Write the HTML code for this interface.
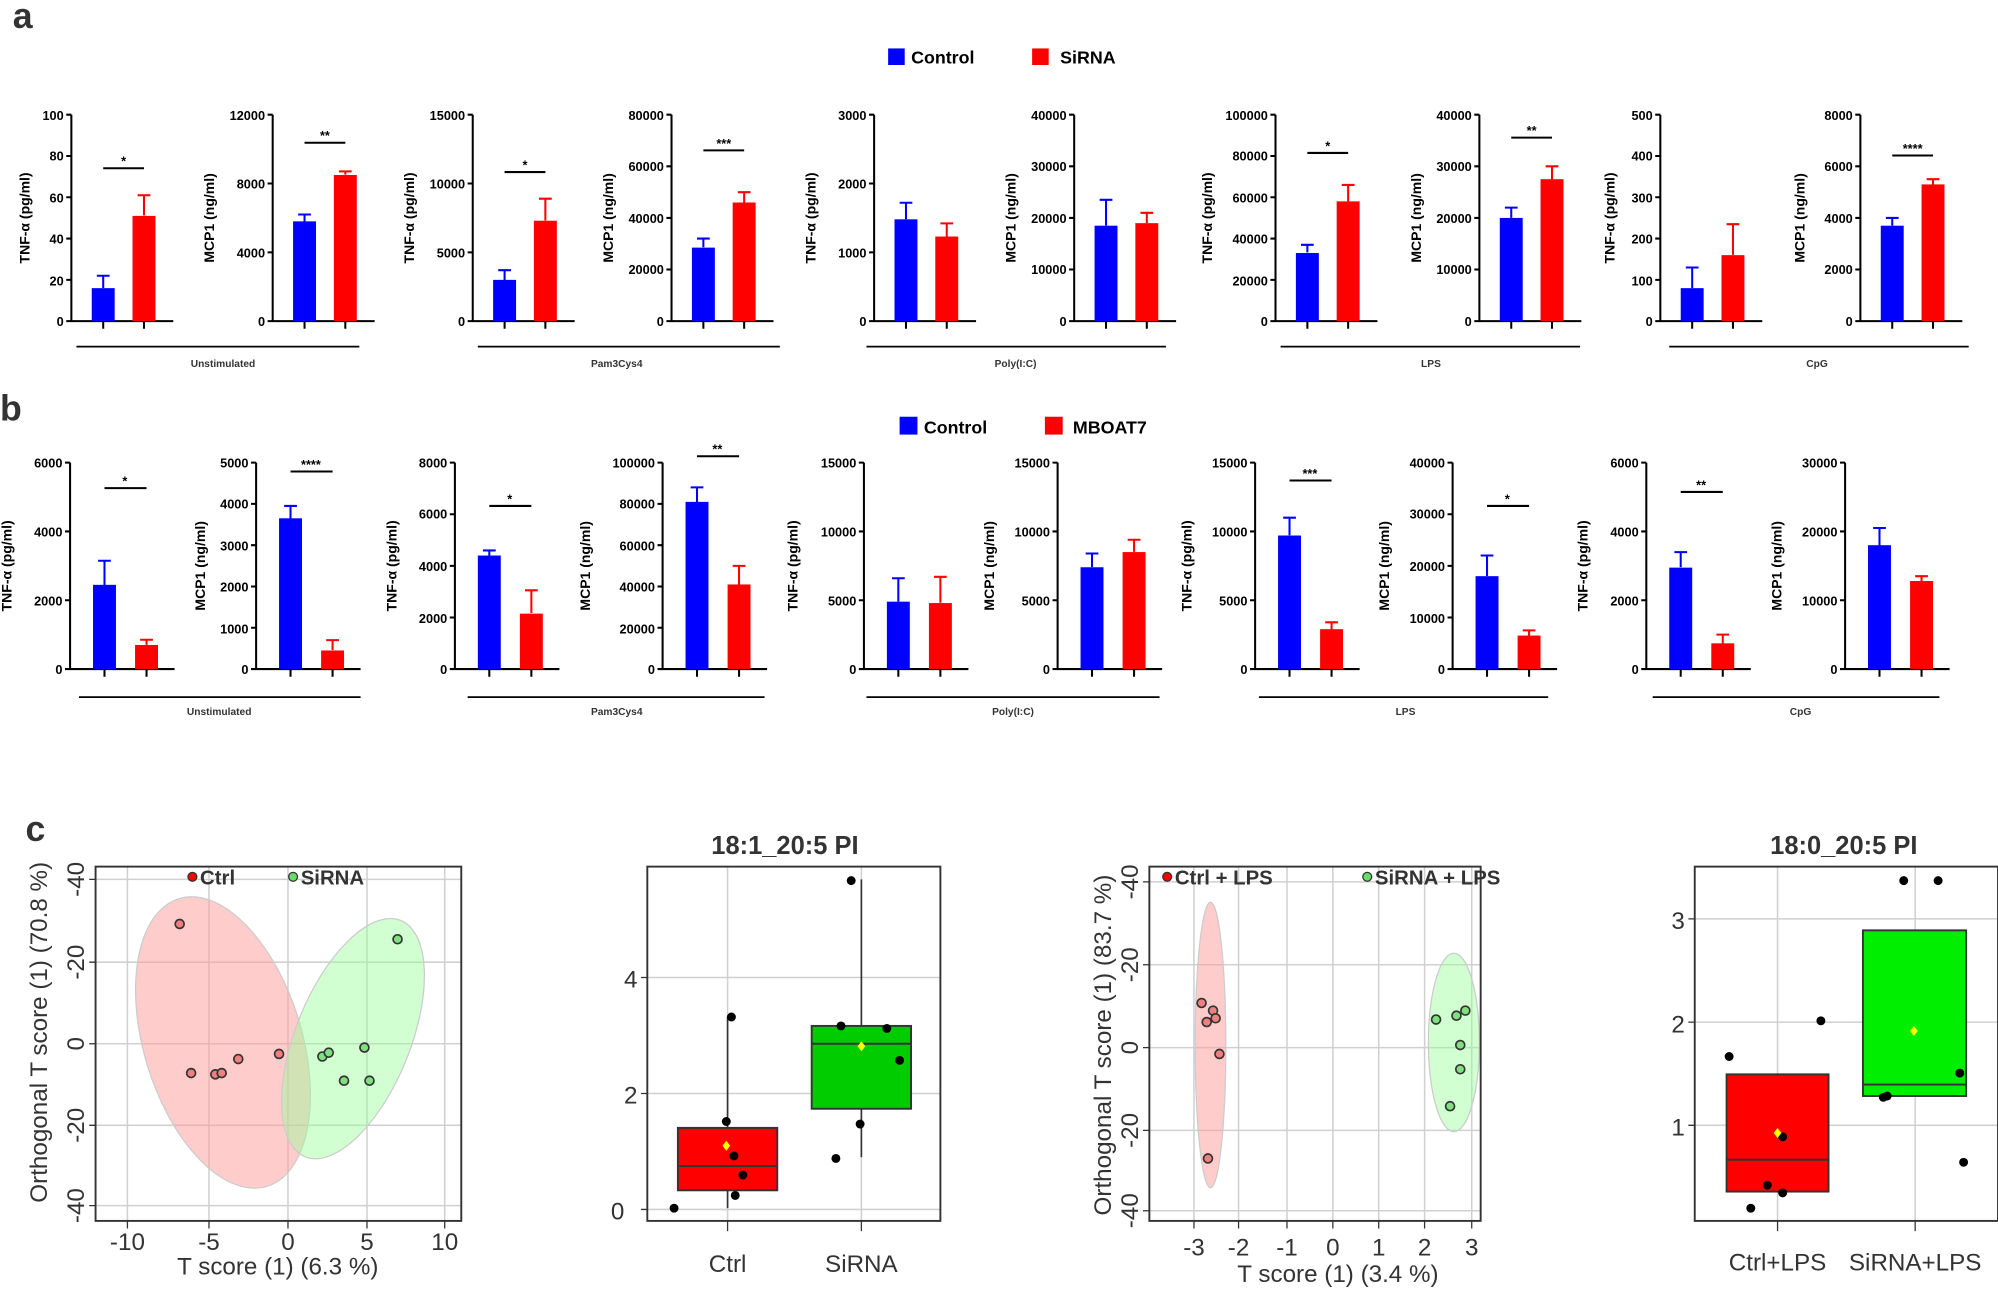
<!DOCTYPE html>
<html><head><meta charset="utf-8"><style>
html,body{margin:0;padding:0;background:#fff}
svg{display:block}
text{font-family:"Liberation Sans",sans-serif}
.t{font-size:10px;font-weight:bold;text-anchor:end}
.yl{font-size:11px;font-weight:bold;text-anchor:middle}
.g{font-size:8px;font-weight:bold;text-anchor:middle;fill:#333}
.s{font-size:10px;font-weight:bold;text-anchor:middle}
.ax{stroke:#000;stroke-width:1.6;fill:none}
.b{fill:#0000ff}.r{fill:#ff0000}
.eb{stroke:#0000ff;stroke-width:1.6}.er{stroke:#ff0000;stroke-width:1.6}
.grid{stroke:#d0d0d0;stroke-width:1.2}
.ct{font-size:19px;fill:#333;text-anchor:middle}
</style></head><body>
<svg width="1998" height="1291" viewBox="0 0 1568 1013" preserveAspectRatio="none" xmlns="http://www.w3.org/2000/svg">
<text x="10" y="22" font-size="28" font-weight="bold" fill="#333">a</text>
<text x="0" y="330" font-size="28" font-weight="bold" fill="#333">b</text>
<text x="20" y="660" font-size="28" font-weight="bold" fill="#333">c</text>

<!-- legend a -->
<rect x="697" y="38" width="13" height="13" class="b"/><text x="715" y="50" font-size="14" font-weight="bold">Control</text>
<rect x="810" y="38" width="13" height="13" class="r"/><text x="832" y="50" font-size="14" font-weight="bold">SiRNA</text>
<!-- legend b -->
<rect x="706" y="327" width="14" height="14" class="b"/><text x="725" y="340" font-size="14" font-weight="bold">Control</text>
<rect x="820" y="327" width="14" height="14" class="r"/><text x="842" y="340" font-size="14" font-weight="bold">MBOAT7</text>

<!-- ===== Panel a ===== -->
<g id="a1" transform="translate(56,0)">
<path class="ax" d="M0,90V252H80M-4,90H0M-4,122.4H0M-4,154.8H0M-4,187.2H0M-4,219.6H0M-4,252H0M25,252v6M57,252v6"/>
<text class="t" x="-6" y="94">100</text><text class="t" x="-6" y="126">80</text><text class="t" x="-6" y="159">60</text><text class="t" x="-6" y="191">40</text><text class="t" x="-6" y="224">20</text><text class="t" x="-6" y="256">0</text>
<text class="yl" transform="translate(-33,171) rotate(-90)">TNF-α (pg/ml)</text>
<rect x="16" y="226.1" width="18" height="25.9" class="b"/><path class="eb" d="M25,226V216.4M20,216.4H30"/>
<rect x="48" y="169.4" width="18" height="82.6" class="r"/><path class="er" d="M57,169V153.2M52,153.2H62"/>
<path class="ax" d="M25,132H57" stroke-width="1"/><text class="s" x="41" y="130">*</text>
</g>
<g transform="translate(214,0)">
<path class="ax" d="M0,90V252H80M-4,90H0M-4,144H0M-4,198H0M-4,252H0M25,252v6M57,252v6"/>
<text class="t" x="-6" y="94">12000</text><text class="t" x="-6" y="148">8000</text><text class="t" x="-6" y="202">4000</text><text class="t" x="-6" y="256">0</text>
<text class="yl" transform="translate(-46,171) rotate(-90)">MCP1 (ng/ml)</text>
<rect x="16" y="173.7" width="18" height="78.3" class="b"/><path class="eb" d="M25,174V168.3M20,168.3H30"/>
<rect x="48" y="137.3" width="18" height="114.7" class="r"/><path class="er" d="M57,137V134.5M52,134.5H62"/>
<path class="ax" d="M25,112H57" stroke-width="1"/><text class="s" x="41" y="110">**</text>
</g>
<g transform="translate(371,0)">
<path class="ax" d="M0,90V252H80M-4,90H0M-4,144H0M-4,198H0M-4,252H0M25,252v6M57,252v6"/>
<text class="t" x="-6" y="94">15000</text><text class="t" x="-6" y="148">10000</text><text class="t" x="-6" y="202">5000</text><text class="t" x="-6" y="256">0</text>
<text class="yl" transform="translate(-46,171) rotate(-90)">TNF-α (pg/ml)</text>
<rect x="16" y="219.6" width="18" height="32.4" class="b"/><path class="eb" d="M25,220V212M20,212H30"/>
<rect x="48" y="173.2" width="18" height="78.8" class="r"/><path class="er" d="M57,173V155.9M52,155.9H62"/>
<path class="ax" d="M25,135H57" stroke-width="1"/><text class="s" x="41" y="133">*</text>
</g>
<g transform="translate(527,0)">
<path class="ax" d="M0,90V252H80M-4,90H0M-4,130.5H0M-4,171H0M-4,211.5H0M-4,252H0M25,252v6M57,252v6"/>
<text class="t" x="-6" y="94">80000</text><text class="t" x="-6" y="134">60000</text><text class="t" x="-6" y="175">40000</text><text class="t" x="-6" y="215">20000</text><text class="t" x="-6" y="256">0</text>
<text class="yl" transform="translate(-46,171) rotate(-90)">MCP1 (ng/ml)</text>
<rect x="16" y="194.3" width="18" height="57.7" class="b"/><path class="eb" d="M25,194V187.2M20,187.2H30"/>
<rect x="48" y="158.9" width="18" height="93.1" class="r"/><path class="er" d="M57,159V150.8M52,150.8H62"/>
<path class="ax" d="M25,118H57" stroke-width="1"/><text class="s" x="41" y="116">***</text>
</g>
<g transform="translate(686,0)">
<path class="ax" d="M0,90V252H80M-4,90H0M-4,144H0M-4,198H0M-4,252H0M25,252v6M57,252v6"/>
<text class="t" x="-6" y="94">3000</text><text class="t" x="-6" y="148">2000</text><text class="t" x="-6" y="202">1000</text><text class="t" x="-6" y="256">0</text>
<text class="yl" transform="translate(-46,171) rotate(-90)">TNF-α (pg/ml)</text>
<rect x="16" y="172.1" width="18" height="79.9" class="b"/><path class="eb" d="M25,172V159.1M20,159.1H30"/>
<rect x="48" y="185.6" width="18" height="66.4" class="r"/><path class="er" d="M57,186V175.3M52,175.3H62"/>
</g>
<g transform="translate(843,0)">
<path class="ax" d="M0,90V252H80M-4,90H0M-4,130.5H0M-4,171H0M-4,211.5H0M-4,252H0M25,252v6M57,252v6"/>
<text class="t" x="-6" y="94">40000</text><text class="t" x="-6" y="134">30000</text><text class="t" x="-6" y="175">20000</text><text class="t" x="-6" y="215">10000</text><text class="t" x="-6" y="256">0</text>
<text class="yl" transform="translate(-46,171) rotate(-90)">MCP1 (ng/ml)</text>
<rect x="16" y="177.1" width="18" height="74.9" class="b"/><path class="eb" d="M25,177V156.8M20,156.8H30"/>
<rect x="48" y="175.1" width="18" height="76.9" class="r"/><path class="er" d="M57,175V167M52,167H62"/>
</g>
<g transform="translate(1001,0)">
<path class="ax" d="M0,90V252H80M-4,90H0M-4,122.4H0M-4,154.8H0M-4,187.2H0M-4,219.6H0M-4,252H0M25,252v6M57,252v6"/>
<text class="t" x="-6" y="94">100000</text><text class="t" x="-6" y="126">80000</text><text class="t" x="-6" y="159">60000</text><text class="t" x="-6" y="191">40000</text><text class="t" x="-6" y="224">20000</text><text class="t" x="-6" y="256">0</text>
<text class="yl" transform="translate(-50,171) rotate(-90)">TNF-α (pg/ml)</text>
<rect x="16" y="198.5" width="18" height="53.5" class="b"/><path class="eb" d="M25,198V192.1M20,192.1H30"/>
<rect x="48" y="158" width="18" height="94" class="r"/><path class="er" d="M57,158V145.1M52,145.1H62"/>
<path class="ax" d="M25,120H57" stroke-width="1"/><text class="s" x="41" y="118">*</text>
</g>
<g transform="translate(1161,0)">
<path class="ax" d="M0,90V252H80M-4,90H0M-4,130.5H0M-4,171H0M-4,211.5H0M-4,252H0M25,252v6M57,252v6"/>
<text class="t" x="-6" y="94">40000</text><text class="t" x="-6" y="134">30000</text><text class="t" x="-6" y="175">20000</text><text class="t" x="-6" y="215">10000</text><text class="t" x="-6" y="256">0</text>
<text class="yl" transform="translate(-46,171) rotate(-90)">MCP1 (ng/ml)</text>
<rect x="16" y="171" width="18" height="81" class="b"/><path class="eb" d="M25,171V162.9M20,162.9H30"/>
<rect x="48" y="140.6" width="18" height="111.4" class="r"/><path class="er" d="M57,141V130.5M52,130.5H62"/>
<path class="ax" d="M25,108H57" stroke-width="1"/><text class="s" x="41" y="106">**</text>
</g>
<g transform="translate(1303,0)">
<path class="ax" d="M0,90V252H80M-4,90H0M-4,122.4H0M-4,154.8H0M-4,187.2H0M-4,219.6H0M-4,252H0M25,252v6M57,252v6"/>
<text class="t" x="-6" y="94">500</text><text class="t" x="-6" y="126">400</text><text class="t" x="-6" y="159">300</text><text class="t" x="-6" y="191">200</text><text class="t" x="-6" y="224">100</text><text class="t" x="-6" y="256">0</text>
<text class="yl" transform="translate(-36,171) rotate(-90)">TNF-α (pg/ml)</text>
<rect x="16" y="226.1" width="18" height="25.9" class="b"/><path class="eb" d="M25,226V209.9M20,209.9H30"/>
<rect x="48" y="200.2" width="18" height="51.8" class="r"/><path class="er" d="M57,200V175.9M52,175.9H62"/>
</g>
<g transform="translate(1460,0)">
<path class="ax" d="M0,90V252H80M-4,90H0M-4,130.5H0M-4,171H0M-4,211.5H0M-4,252H0M25,252v6M57,252v6"/>
<text class="t" x="-6" y="94">8000</text><text class="t" x="-6" y="134">6000</text><text class="t" x="-6" y="175">4000</text><text class="t" x="-6" y="215">2000</text><text class="t" x="-6" y="256">0</text>
<text class="yl" transform="translate(-44,171) rotate(-90)">MCP1 (ng/ml)</text>
<rect x="16" y="177.1" width="18" height="74.9" class="b"/><path class="eb" d="M25,177V171M20,171H30"/>
<rect x="48" y="144.7" width="18" height="107.3" class="r"/><path class="er" d="M57,145V140.6M52,140.6H62"/>
<path class="ax" d="M25,122H57" stroke-width="1"/><text class="s" x="41" y="120">****</text>
</g>
<path d="M60,272H282M375,272H612M680,272H915M1005,272H1240M1310,272H1545" stroke="#000" stroke-width="1.4"/>
<text class="g" x="175" y="288">Unstimulated</text><text class="g" x="484" y="288">Pam3Cys4</text><text class="g" x="797" y="288">Poly(I:C)</text><text class="g" x="1123" y="288">LPS</text><text class="g" x="1426" y="288">CpG</text>

<!-- ===== Panel b ===== -->
<g transform="translate(55,0)">
<path class="ax" d="M0,363V525H82M-4,363H0M-4,417H0M-4,471H0M-4,525H0M27,525v6M60,525v6"/>
<text class="t" x="-6" y="367">6000</text><text class="t" x="-6" y="421">4000</text><text class="t" x="-6" y="475">2000</text><text class="t" x="-6" y="529">0</text>
<text class="yl" transform="translate(-46,444) rotate(-90)">TNF-α (pg/ml)</text>
<rect x="18" y="458.9" width="18" height="66.1" class="b"/><path class="eb" d="M27,459V440M22,440H32"/>
<rect x="51" y="506.1" width="18" height="18.9" class="r"/><path class="er" d="M60,506V502M55,502H65"/>
<path class="ax" d="M27,383H60" stroke-width="1"/><text class="s" x="43" y="381">*</text>
</g>
<g transform="translate(201,0)">
<path class="ax" d="M0,363V525H82M-4,363H0M-4,395.4H0M-4,427.8H0M-4,460.2H0M-4,492.6H0M-4,525H0M27,525v6M60,525v6"/>
<text class="t" x="-6" y="367">5000</text><text class="t" x="-6" y="399">4000</text><text class="t" x="-6" y="432">3000</text><text class="t" x="-6" y="464">2000</text><text class="t" x="-6" y="497">1000</text><text class="t" x="-6" y="529">0</text>
<text class="yl" transform="translate(-40,444) rotate(-90)">MCP1 (ng/ml)</text>
<rect x="18" y="406.7" width="18" height="118.3" class="b"/><path class="eb" d="M27,407V397M22,397H32"/>
<rect x="51" y="510.4" width="18" height="14.6" class="r"/><path class="er" d="M60,510V502.3M55,502.3H65"/>
<path class="ax" d="M27,370H60" stroke-width="1"/><text class="s" x="43" y="368">****</text>
</g>
<g transform="translate(357,0)">
<path class="ax" d="M0,363V525H82M-4,363H0M-4,403.5H0M-4,444H0M-4,484.5H0M-4,525H0M27,525v6M60,525v6"/>
<text class="t" x="-6" y="367">8000</text><text class="t" x="-6" y="407">6000</text><text class="t" x="-6" y="448">4000</text><text class="t" x="-6" y="489">2000</text><text class="t" x="-6" y="529">0</text>
<text class="yl" transform="translate(-46,444) rotate(-90)">TNF-α (pg/ml)</text>
<rect x="18" y="435.9" width="18" height="89.1" class="b"/><path class="eb" d="M27,436V431.9M22,431.9H32"/>
<rect x="51" y="481.5" width="18" height="43.5" class="r"/><path class="er" d="M60,481V463.2M55,463.2H65"/>
<path class="ax" d="M27,397H60" stroke-width="1"/><text class="s" x="43" y="395">*</text>
</g>
<g transform="translate(520,0)">
<path class="ax" d="M0,363V525H82M-4,363H0M-4,395.4H0M-4,427.8H0M-4,460.2H0M-4,492.6H0M-4,525H0M27,525v6M60,525v6"/>
<text class="t" x="-6" y="367">100000</text><text class="t" x="-6" y="399">80000</text><text class="t" x="-6" y="432">60000</text><text class="t" x="-6" y="464">40000</text><text class="t" x="-6" y="497">20000</text><text class="t" x="-6" y="529">0</text>
<text class="yl" transform="translate(-57,444) rotate(-90)">MCP1 (ng/ml)</text>
<rect x="18" y="393.8" width="18" height="131.2" class="b"/><path class="eb" d="M27,394V382.4M22,382.4H32"/>
<rect x="51" y="458.6" width="18" height="66.4" class="r"/><path class="er" d="M60,459V444M55,444H65"/>
<path class="ax" d="M27,358H60" stroke-width="1"/><text class="s" x="43" y="356">**</text>
</g>
<g transform="translate(678,0)">
<path class="ax" d="M0,363V525H82M-4,363H0M-4,417H0M-4,471H0M-4,525H0M27,525v6M60,525v6"/>
<text class="t" x="-6" y="367">15000</text><text class="t" x="-6" y="421">10000</text><text class="t" x="-6" y="475">5000</text><text class="t" x="-6" y="529">0</text>
<text class="yl" transform="translate(-52,444) rotate(-90)">TNF-α (pg/ml)</text>
<rect x="18" y="472.1" width="18" height="52.9" class="b"/><path class="eb" d="M27,472V453.7M22,453.7H32"/>
<rect x="51" y="473.2" width="18" height="51.8" class="r"/><path class="er" d="M60,473V452.6M55,452.6H65"/>
</g>
<g transform="translate(830,0)">
<path class="ax" d="M0,363V525H82M-4,363H0M-4,417H0M-4,471H0M-4,525H0M27,525v6M60,525v6"/>
<text class="t" x="-6" y="367">15000</text><text class="t" x="-6" y="421">10000</text><text class="t" x="-6" y="475">5000</text><text class="t" x="-6" y="529">0</text>
<text class="yl" transform="translate(-50,444) rotate(-90)">MCP1 (ng/ml)</text>
<rect x="18" y="445.1" width="18" height="79.9" class="b"/><path class="eb" d="M27,445V434.3M22,434.3H32"/>
<rect x="51" y="433.2" width="18" height="91.8" class="r"/><path class="er" d="M60,433V423.5M55,423.5H65"/>
</g>
<g transform="translate(985,0)">
<path class="ax" d="M0,363V525H82M-4,363H0M-4,417H0M-4,471H0M-4,525H0M27,525v6M60,525v6"/>
<text class="t" x="-6" y="367">15000</text><text class="t" x="-6" y="421">10000</text><text class="t" x="-6" y="475">5000</text><text class="t" x="-6" y="529">0</text>
<text class="yl" transform="translate(-50,444) rotate(-90)">TNF-α (pg/ml)</text>
<rect x="18" y="420.2" width="18" height="104.8" class="b"/><path class="eb" d="M27,420V406.2M22,406.2H32"/>
<rect x="51" y="493.7" width="18" height="31.3" class="r"/><path class="er" d="M60,494V488.3M55,488.3H65"/>
<path class="ax" d="M27,377H60" stroke-width="1"/><text class="s" x="43" y="375">***</text>
</g>
<g transform="translate(1140,0)">
<path class="ax" d="M0,363V525H82M-4,363H0M-4,403.5H0M-4,444H0M-4,484.5H0M-4,525H0M27,525v6M60,525v6"/>
<text class="t" x="-6" y="367">40000</text><text class="t" x="-6" y="407">30000</text><text class="t" x="-6" y="448">20000</text><text class="t" x="-6" y="489">10000</text><text class="t" x="-6" y="529">0</text>
<text class="yl" transform="translate(-50,444) rotate(-90)">MCP1 (ng/ml)</text>
<rect x="18" y="452.1" width="18" height="72.9" class="b"/><path class="eb" d="M27,452V435.9M22,435.9H32"/>
<rect x="51" y="498.7" width="18" height="26.3" class="r"/><path class="er" d="M60,499V494.6M55,494.6H65"/>
<path class="ax" d="M27,397H60" stroke-width="1"/><text class="s" x="43" y="395">*</text>
</g>
<g transform="translate(1292,0)">
<path class="ax" d="M0,363V525H82M-4,363H0M-4,417H0M-4,471H0M-4,525H0M27,525v6M60,525v6"/>
<text class="t" x="-6" y="367">6000</text><text class="t" x="-6" y="421">4000</text><text class="t" x="-6" y="475">2000</text><text class="t" x="-6" y="529">0</text>
<text class="yl" transform="translate(-46,444) rotate(-90)">TNF-α (pg/ml)</text>
<rect x="18" y="445.4" width="18" height="79.6" class="b"/><path class="eb" d="M27,445V433.2M22,433.2H32"/>
<rect x="51" y="504.8" width="18" height="20.2" class="r"/><path class="er" d="M60,505V498M55,498H65"/>
<path class="ax" d="M27,386H60" stroke-width="1"/><text class="s" x="43" y="384">**</text>
</g>
<g transform="translate(1448,0)">
<path class="ax" d="M0,363V525H82M-4,363H0M-4,417H0M-4,471H0M-4,525H0M27,525v6M60,525v6"/>
<text class="t" x="-6" y="367">30000</text><text class="t" x="-6" y="421">20000</text><text class="t" x="-6" y="475">10000</text><text class="t" x="-6" y="529">0</text>
<text class="yl" transform="translate(-50,444) rotate(-90)">MCP1 (ng/ml)</text>
<rect x="18" y="427.8" width="18" height="97.2" class="b"/><path class="eb" d="M27,428V414.3M22,414.3H32"/>
<rect x="51" y="455.9" width="18" height="69.1" class="r"/><path class="er" d="M60,456V452.1M55,452.1H65"/>
</g>
<path d="M62,547H283M367,547H600M680,547H910M988,547H1215M1297,547H1522" stroke="#000" stroke-width="1.4"/>
<text class="g" x="172" y="561">Unstimulated</text><text class="g" x="484" y="561">Pam3Cys4</text><text class="g" x="795" y="561">Poly(I:C)</text><text class="g" x="1103" y="561">LPS</text><text class="g" x="1413" y="561">CpG</text>

<!-- ===== Panel c1 ===== -->
<g>
<path class="grid" d="M100,680V958M164,680V958M226,680V958M288,680V958M349,680V958M75,690H362M75,755H362M75,819H362M75,883H362M75,946H362"/>
<ellipse cx="175" cy="818" rx="62" ry="118" transform="rotate(-17 175 818)" fill="#ff9999" fill-opacity="0.5" stroke="#ccc"/>
<ellipse cx="277" cy="815" rx="45" ry="100" transform="rotate(22 277 815)" fill="#99ff99" fill-opacity="0.45" stroke="#ccc"/>
<rect x="75" y="680" width="287" height="278" fill="none" stroke="#333" stroke-width="1.5"/>
<g fill="#f08080" stroke="#333" stroke-width="1.3">
<circle cx="141" cy="725" r="3.5"/><circle cx="150" cy="842" r="3.5"/><circle cx="169" cy="843" r="3.5"/><circle cx="174" cy="842" r="3.5"/><circle cx="187" cy="831" r="3.5"/><circle cx="219" cy="827" r="3.5"/></g>
<g fill="#80e080" stroke="#333" stroke-width="1.3">
<circle cx="312" cy="737" r="3.5"/><circle cx="253" cy="829" r="3.5"/><circle cx="258" cy="826" r="3.5"/><circle cx="270" cy="848" r="3.5"/><circle cx="286" cy="822" r="3.5"/><circle cx="290" cy="848" r="3.5"/></g>
<circle cx="151" cy="688" r="3.5" fill="#f00" stroke="#333"/><text x="157" y="694" font-size="16" font-weight="bold" fill="#333">Ctrl</text>
<circle cx="230" cy="688" r="3.5" fill="#6d6" stroke="#333"/><text x="236" y="694" font-size="16" font-weight="bold" fill="#333">SiRNA</text>
<path d="M100,958v6M164,958v6M226,958v6M288,958v6M349,958v6M75,690h-5M75,755h-5M75,819h-5M75,883h-5M75,946h-5" stroke="#333"/>
<g class="ct" font-size="17"><text x="100" y="981">-10</text><text x="164" y="981">-5</text><text x="226" y="981">0</text><text x="288" y="981">5</text><text x="349" y="981">10</text></g>
<g class="ct" font-size="17"><text transform="translate(66,690) rotate(-90)">-40</text><text transform="translate(66,755) rotate(-90)">-20</text><text transform="translate(66,819) rotate(-90)">0</text><text transform="translate(66,883) rotate(-90)">-20</text><text transform="translate(66,946) rotate(-90)">-40</text></g>
<text class="ct" x="218" y="1000" font-size="17">T score (1) (6.3 %)</text>
<text class="ct" font-size="17" transform="translate(37,810) rotate(-90)">Orthogonal T score (1) (70.8 %)</text>
</g>

<!-- ===== Panel c2 ===== -->
<g>
<text x="616" y="670" font-size="20" font-weight="bold" fill="#333" text-anchor="middle">18:1_20:5 PI</text>
<path class="grid" d="M571,680V958M676,680V958M508,949H738M508,858H738M508,767H738"/>
<path d="M571,798V948M676,690V908" stroke="#333" stroke-width="1.3"/>
<rect x="532" y="885" width="78" height="49" fill="#f00" stroke="#333" stroke-width="1.5"/>
<path d="M532,915H610" stroke="#333" stroke-width="1.5"/>
<rect x="637" y="805" width="78" height="65" fill="#00cc00" stroke="#333" stroke-width="1.5"/>
<path d="M637,819H715" stroke="#333" stroke-width="1.5"/>
<rect x="508" y="680" width="230" height="278" fill="none" stroke="#333" stroke-width="1.5"/>
<g fill="#000"><circle cx="574" cy="798" r="3.5"/><circle cx="570" cy="880" r="3.5"/><circle cx="576" cy="907" r="3.5"/><circle cx="583" cy="922" r="3.5"/><circle cx="577" cy="938" r="3.5"/><circle cx="529" cy="948" r="3.5"/>
<circle cx="668" cy="691" r="3.5"/><circle cx="660" cy="805" r="3.5"/><circle cx="696" cy="807" r="3.5"/><circle cx="706" cy="832" r="3.5"/><circle cx="675" cy="882" r="3.5"/><circle cx="656" cy="909" r="3.5"/></g>
<path d="M570,895l3,4l-3,4l-3,-4z M676,817l3,4l-3,4l-3,-4z" fill="#ff0"/>
<path d="M571,958v8M676,958v8M508,949h-5M508,858h-5M508,767h-5" stroke="#333"/>
<g class="ct" font-size="22"><text x="490" y="957" text-anchor="end">0</text><text x="495" y="866">2</text><text x="495" y="775">4</text></g>
<g class="ct" font-size="22"><text x="571" y="998">Ctrl</text><text x="676" y="998">SiRNA</text></g>
</g>

<!-- ===== Panel c3 ===== -->
<g>
<path class="grid" d="M937,680V958M972,680V958M1010,680V958M1046,680V958M1082,680V958M1118,680V958M1155,680V958M902,692H1162M902,757H1162M902,822H1162M902,887H1162M902,950H1162"/>
<ellipse cx="950" cy="820" rx="12" ry="112" fill="#ff9999" fill-opacity="0.5" stroke="#ccc"/>
<ellipse cx="1141" cy="818" rx="20" ry="70" fill="#99ff99" fill-opacity="0.45" stroke="#ccc"/>
<rect x="902" y="680" width="260" height="278" fill="none" stroke="#333" stroke-width="1.5"/>
<g fill="#f08080" stroke="#333" stroke-width="1.3"><circle cx="943" cy="787" r="3.5"/><circle cx="947" cy="802" r="3.5"/><circle cx="952" cy="793" r="3.5"/><circle cx="954" cy="799" r="3.5"/><circle cx="957" cy="827" r="3.5"/><circle cx="948" cy="909" r="3.5"/></g>
<g fill="#80e080" stroke="#333" stroke-width="1.3"><circle cx="1127" cy="800" r="3.5"/><circle cx="1143" cy="797" r="3.5"/><circle cx="1150" cy="793" r="3.5"/><circle cx="1146" cy="820" r="3.5"/><circle cx="1146" cy="839" r="3.5"/><circle cx="1138" cy="868" r="3.5"/></g>
<circle cx="916" cy="688" r="3.5" fill="#f00" stroke="#333"/><text x="922" y="694" font-size="16" font-weight="bold" fill="#333">Ctrl + LPS</text>
<circle cx="1073" cy="688" r="3.5" fill="#6d6" stroke="#333"/><text x="1079" y="694" font-size="16" font-weight="bold" fill="#333">SiRNA + LPS</text>
<path d="M937,958v6M972,958v6M1010,958v6M1046,958v6M1082,958v6M1118,958v6M1155,958v6M902,692h-5M902,757h-5M902,822h-5M902,887h-5M902,950h-5" stroke="#333"/>
<g class="ct" font-size="21"><text x="937" y="985">-3</text><text x="972" y="985">-2</text><text x="1010" y="985">-1</text><text x="1046" y="985">0</text><text x="1082" y="985">1</text><text x="1118" y="985">2</text><text x="1155" y="985">3</text></g>
<g class="ct" font-size="20"><text transform="translate(893,692) rotate(-90)">-40</text><text transform="translate(893,757) rotate(-90)">-20</text><text transform="translate(893,822) rotate(-90)">0</text><text transform="translate(893,887) rotate(-90)">-20</text><text transform="translate(893,950) rotate(-90)">-40</text></g>
<text class="ct" x="1050" y="1006" font-size="21">T score (1) (3.4 %)</text>
<text class="ct" font-size="19" transform="translate(872,820) rotate(-90)">Orthogonal T score (1) (83.7 %)</text>
</g>

<!-- ===== Panel c4 ===== -->
<g>
<text x="1447" y="670" font-size="20" font-weight="bold" fill="#333" text-anchor="middle">18:0_20:5 PI</text>
<path class="grid" d="M1395,680V958M1503,680V958M1330,883H1568M1330,802H1568M1330,721H1568"/>
<rect x="1355" y="843" width="80" height="92" fill="#f00" stroke="#333" stroke-width="1.5"/>
<path d="M1355,910H1435" stroke="#333" stroke-width="1.5"/>
<rect x="1462" y="730" width="81" height="130" fill="#00ee00" stroke="#333" stroke-width="1.5"/>
<path d="M1462,851H1543" stroke="#333" stroke-width="1.5"/>
<rect x="1330" y="680" width="238" height="278" fill="none" stroke="#333" stroke-width="1.5"/>
<g fill="#000"><circle cx="1357" cy="829" r="3.5"/><circle cx="1399" cy="892" r="3.5"/><circle cx="1387" cy="930" r="3.5"/><circle cx="1399" cy="936" r="3.5"/><circle cx="1374" cy="948" r="3.5"/><circle cx="1429" cy="801" r="3.5"/>
<circle cx="1494" cy="691" r="3.5"/><circle cx="1521" cy="691" r="3.5"/><circle cx="1538" cy="842" r="3.5"/><circle cx="1481" cy="860" r="3.5"/><circle cx="1478" cy="861" r="3.5"/><circle cx="1541" cy="912" r="3.5"/></g>
<path d="M1395,885l3,4l-3,4l-3,-4z M1502,805l3,4l-3,4l-3,-4z" fill="#ff0"/>
<path d="M1395,958v8M1503,958v8M1330,883h-5M1330,802h-5M1330,721h-5" stroke="#333"/>
<g class="ct" font-size="22"><text x="1317" y="891">1</text><text x="1317" y="810">2</text><text x="1317" y="729">3</text></g>
<g class="ct" font-size="18"><text x="1395" y="997">Ctrl+LPS</text><text x="1503" y="997">SiRNA+LPS</text></g>
</g>
</svg>
</body></html>
